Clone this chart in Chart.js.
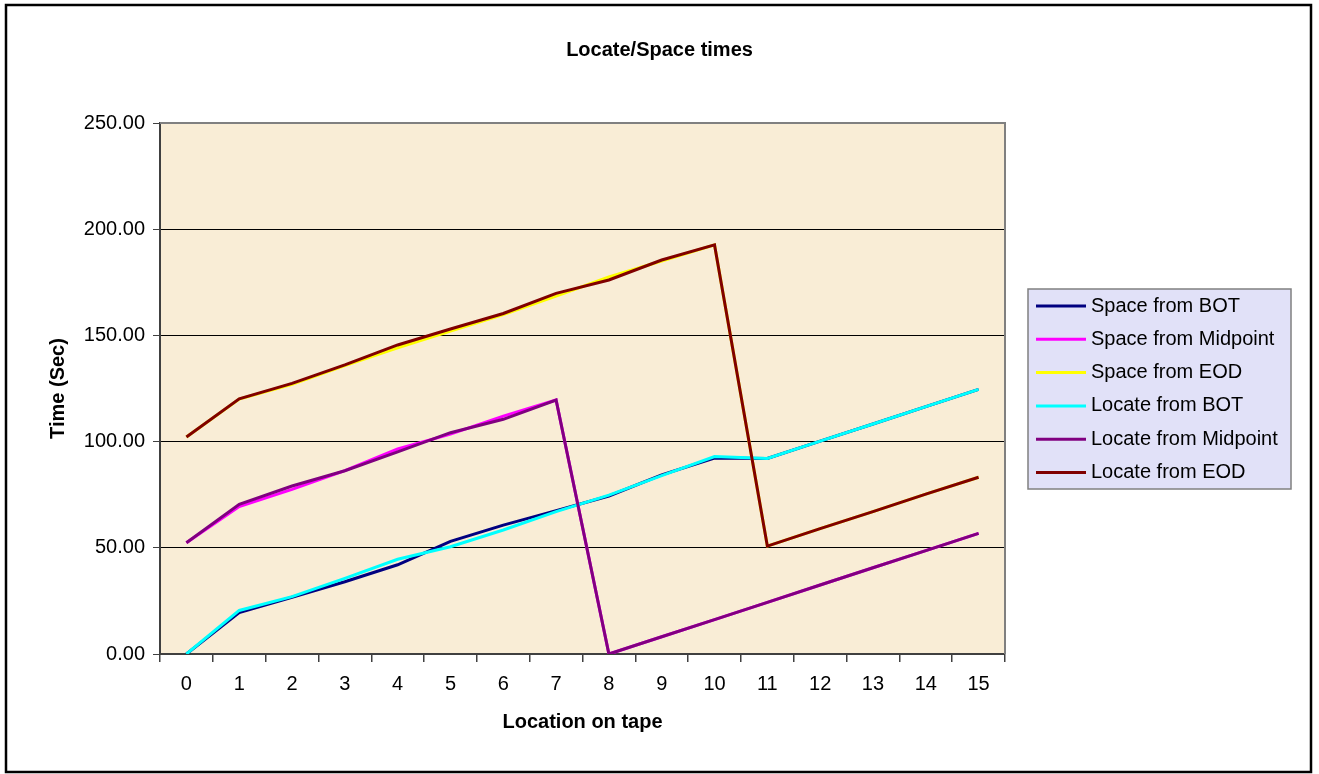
<!DOCTYPE html>
<html>
<head>
<meta charset="utf-8">
<title>Locate/Space times</title>
<script src="https://cdn.jsdelivr.net/npm/chart.js@4.4.1/dist/chart.umd.min.js"></script>
<style>
  html, body { margin: 0; padding: 0; background: #fff; }
  #wrap { width: 1319px; height: 774px; }
</style>
</head>
<body>
<div id="wrap"><canvas id="myChart" width="1319" height="774"></canvas></div>
<script>
// Datos
const categorias = ['0','1','2','3','4','5','6','7','8','9','10','11','12','13','14','15'];
const spaceFromBOT      = [0, 19.5, 26.7, 34, 42, 53, 60.7, 67.5, 74.4, 84.3, 92.3, 92.1, 100.2, 108.3, 116.5, 124.6];
const spaceFromMidpoint = [52.4, 69.4, 77.5, 86.3, 96.5, 103.5, 112, 119.6, 0, 8.1, 16.2, 24.3, 32.5, 40.6, 48.7, 56.8];
const spaceFromEOD      = [102.2, 120, 127, 135.8, 144.2, 152, 159.8, 168.5, 177.5, 185, 192.6, 50.8, 59, 67, 75.3, 83.2];
const locateFromBOT      = [0, 20.5, 27, 35.6, 44.6, 50.5, 58.4, 67, 74.8, 84, 93, 92.1, 100.2, 108.3, 116.5, 124.6];
const locateFromMidpoint = [52.4, 70.5, 79.1, 86.3, 95.2, 104.2, 110.5, 119.6, 0, 8.1, 16.2, 24.3, 32.5, 40.6, 48.7, 56.8];
const locateFromEOD      = [102.2, 120.1, 127.4, 136.1, 145.5, 153, 160.3, 169.8, 176.1, 185.5, 192.6, 50.8, 59, 67, 75.3, 83.2];
const yTicks = [0, 50, 100, 150, 200, 250];

const fuente = '"Liberation Sans", Arial, sans-serif';

const series = [
  { label: 'Space from BOT', data: spaceFromBOT, color: '#000080' },
  { label: 'Space from Midpoint', data: spaceFromMidpoint, color: '#FF00FF' },
  { label: 'Space from EOD', data: spaceFromEOD, color: '#FFFF00' },
  { label: 'Locate from BOT', data: locateFromBOT, color: '#00FFFF' },
  { label: 'Locate from Midpoint', data: locateFromMidpoint, color: '#800080' },
  { label: 'Locate from EOD', data: locateFromEOD, color: '#800000' }
];

// Fondo del área de trazado, marco y leyenda estilo Excel
const marcoExcel = {
  id: 'marcoExcel',
  beforeDraw(chart) {
    const { ctx, chartArea: a } = chart;
    ctx.save();
    ctx.fillStyle = '#F9EDD6';
    ctx.fillRect(a.left, a.top, a.right - a.left, a.bottom - a.top);
    ctx.restore();
  },
  beforeDatasetsDraw(chart) {
    const { ctx, chartArea: a } = chart;
    ctx.save();
    ctx.strokeStyle = '#808080';
    ctx.lineWidth = 2;
    ctx.beginPath();
    ctx.moveTo(a.left, a.top);
    ctx.lineTo(a.right, a.top);
    ctx.lineTo(a.right, a.bottom);
    ctx.stroke();
    ctx.restore();
  },
  afterDraw(chart) {
    const { ctx, chartArea: a } = chart;
    ctx.save();
    // borde exterior
    ctx.strokeStyle = '#000';
    ctx.lineWidth = 2.5;
    ctx.strokeRect(6, 5, 1305, 767);

    // leyenda
    const lx = a.right + 23, ly = 289, lw = 263, lh = 200;
    ctx.fillStyle = '#E1E1F8';
    ctx.fillRect(lx, ly, lw, lh);
    ctx.strokeStyle = '#808080';
    ctx.lineWidth = 1.5;
    ctx.strokeRect(lx, ly, lw, lh);
    ctx.font = '20px ' + fuente;
    ctx.textBaseline = 'middle';
    chart.data.datasets.forEach((ds, i) => {
      const y = ly + 17 + i * 33.3;
      ctx.strokeStyle = ds.borderColor;
      ctx.lineWidth = 3;
      ctx.beginPath();
      ctx.moveTo(lx + 8, y);
      ctx.lineTo(lx + 58, y);
      ctx.stroke();
      ctx.fillStyle = '#000';
      ctx.fillText(ds.label, lx + 63, y);
    });
    ctx.restore();
  }
};

const ctx = document.getElementById('myChart').getContext('2d');
const myChart = new Chart(ctx, {
  type: 'line',
  data: {
    labels: categorias,
    datasets: series.map((s, i) => ({
      label: s.label,
      data: s.data,
      borderColor: s.color,
      backgroundColor: s.color,
      borderWidth: 3,
      pointRadius: 0,
      tension: 0,
      fill: false,
      order: series.length - i // la última serie queda encima
    }))
  },
  options: {
    responsive: false,
    animation: false,
    layout: { padding: 0 },
    plugins: {
      legend: { display: false },
      tooltip: { enabled: false },
      title: {
        display: true,
        text: 'Locate/Space times',
        color: '#000',
        font: { family: fuente, size: 20, weight: 'bold' },
        padding: { top: 38, bottom: 61 }
      }
    },
    scales: {
      x: {
        offset: true,
        grid: {
          offset: true,
          drawOnChartArea: false,
          drawTicks: true,
          tickLength: 8,
          color: '#404040',
          lineWidth: 1.5
        },
        border: { color: '#404040', width: 2 },
        ticks: {
          color: '#000',
          font: { family: fuente, size: 20 },
          padding: 10,
          maxRotation: 0,
          autoSkip: false
        },
        title: {
          display: true,
          text: 'Location on tape',
          color: '#000',
          font: { family: fuente, size: 20, weight: 'bold' },
          padding: { top: 0, bottom: 40 }
        },
        afterFit(scale) { scale.height = 120; }
      },
      y: {
        min: 0,
        max: 250,
        afterBuildTicks(scale) { scale.ticks = yTicks.map(v => ({ value: v })); },
        grid: {
          color: c => (c.tick && c.tick.value === 250) ? '#808080' : '#000',
          lineWidth: 1,
          tickLength: 7,
          tickColor: '#404040'
        },
        border: { color: '#404040', width: 2 },
        ticks: {
          color: '#000',
          font: { family: fuente, size: 20 },
          padding: 8,
          callback: v => Number(v).toFixed(2)
        },
        title: {
          display: true,
          text: 'Time (Sec)',
          color: '#000',
          font: { family: fuente, size: 20, weight: 'bold' },
          padding: { top: 46, bottom: 0 }
        },
        afterFit(scale) { scale.width = 160; }
      },
      // eje vacío a la derecha: reserva el espacio de la leyenda
      espacioLeyenda: {
        type: 'linear',
        position: 'right',
        display: true,
        grid: { display: false, drawTicks: false },
        border: { display: false },
        ticks: { display: false },
        afterFit(scale) { scale.width = 314; }
      }
    }
  },
  plugins: [marcoExcel]
});
</script>
</body>
</html>
